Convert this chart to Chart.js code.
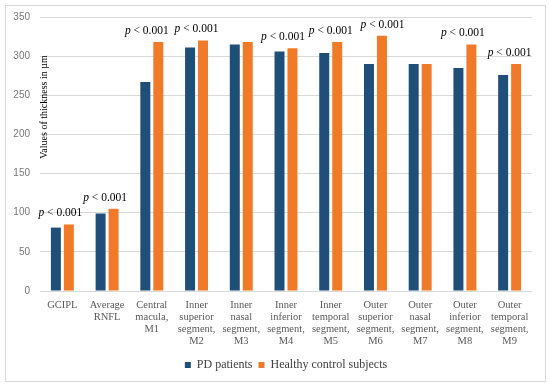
<!DOCTYPE html>
<html lang="en">
<head>
    <meta charset="UTF-8">
    <title>Retinal thickness: PD vs healthy controls</title>
    <script src="https://cdn.jsdelivr.net/npm/chart.js"></script>
    <style>
        body {
            margin: 0;
            background: #fff;
        }
        canvas {
            display: block;
        }
    </style>
</head>
<body>
    <canvas id="thicknessChart" width="550" height="384"></canvas>

    <script>
        // Data
        const categories = [
            ['GCIPL'],
            ['Average', 'RNFL'],
            ['Central', 'macula,', 'M1'],
            ['Inner', 'superior', 'segment,', 'M2'],
            ['Inner', 'nasal', 'segment,', 'M3'],
            ['Inner', 'inferior', 'segment,', 'M4'],
            ['Inner', 'temporal', 'segment,', 'M5'],
            ['Outer', 'superior', 'segment,', 'M6'],
            ['Outer', 'nasal', 'segment,', 'M7'],
            ['Outer', 'inferior', 'segment,', 'M8'],
            ['Outer', 'temporal', 'segment,', 'M9']
        ];
        const pdPatients      = [81, 99, 267, 311, 315, 306, 304, 290, 290, 285, 276];
        const healthyControls = [85, 105, 318, 320, 318, 310, 318, 326, 290, 315, 290];
        const pValueLabels = ['< 0.001', '< 0.001', '< 0.001', '< 0.001', '', '< 0.001',
                              '< 0.001', '< 0.001', '', '< 0.001', '< 0.001'];

        const serif = "'Liberation Serif', 'Times New Roman', serif";

        // small horizontal nudges of the p labels, as placed in the original
        const labelNudge = { 0: -2, 1: -2, 2: -5, 5: -3, 7: 7, 9: -2 };

        // frame, y title and p-value labels
        const extras = {
            id: 'extras',
            beforeDraw(chart) {
                const ctx = chart.ctx;
                ctx.save();
                ctx.fillStyle = '#fff';
                ctx.fillRect(0, 0, chart.width, chart.height);
                ctx.strokeStyle = '#d9d9d9';
                ctx.lineWidth = 1;
                ctx.strokeRect(5.5, 5.5, 540, 376);
                ctx.restore();
            },
            afterDatasetsDraw(chart) {
                const ctx = chart.ctx;
                const x = chart.scales.x, y = chart.scales.y;
                ctx.save();
                ctx.textBaseline = 'alphabetic';
                ctx.fillStyle = '#000';
                pValueLabels.forEach((txt, i) => {
                    if (!txt) return;
                    const top = y.getPixelForValue(Math.max(pdPatients[i], healthyControls[i]));
                    const cx = x.getPixelForValue(i) + (labelNudge[i] || 0);
                    ctx.font = 'italic 11.5px ' + serif;
                    const wp = ctx.measureText('p ').width;
                    ctx.font = '11.5px ' + serif;
                    const wr = ctx.measureText(txt).width;
                    const left = cx - (wp + wr) / 2;
                    ctx.font = 'italic 11.5px ' + serif;
                    ctx.textAlign = 'left';
                    ctx.fillText('p', left, top - 8);
                    ctx.font = '11.5px ' + serif;
                    ctx.fillText(txt, left + wp, top - 8);
                });

                // y axis title sits inside the plot area
                ctx.translate(44, 107);
                ctx.rotate(-Math.PI / 2);
                ctx.textAlign = 'center';
                ctx.textBaseline = 'middle';
                ctx.font = '10px ' + serif;
                ctx.fillText('Values of thickness in \u00b5m', 0, 0);
                ctx.restore();
            }
        };

        const config = {
            type: 'bar',
            data: {
                labels: categories,
                datasets: [
                    {
                        label: 'PD patients',
                        data: pdPatients,
                        backgroundColor: '#1F4E79',
                        categoryPercentage: 0.58,
                        barPercentage: 0.77
                    },
                    {
                        label: 'Healthy control subjects',
                        data: healthyControls,
                        backgroundColor: '#F07A28',
                        categoryPercentage: 0.58,
                        barPercentage: 0.77
                    }
                ]
            },
            options: {
                responsive: false,
                animation: false,
                devicePixelRatio: 1,
                layout: {
                    padding: { left: 0, right: 18, top: 17, bottom: 3 }
                },
                scales: {
                    y: {
                        min: 0,
                        max: 350,
                        afterFit(scale) { scale.width = 40; },
                        ticks: {
                            stepSize: 50,
                            padding: 10,
                            color: '#777',
                            font: { family: "'Liberation Sans', Arial, sans-serif", size: 10 }
                        },
                        grid: {
                            color: '#d9d9d9',
                            drawTicks: false
                        },
                        border: { display: false }
                    },
                    x: {
                        afterFit(scale) { scale.height = 62; },
                        grid: { display: false },
                        border: { display: false },
                        ticks: {
                            autoSkip: false,
                            maxRotation: 0,
                            minRotation: 0,
                            padding: 0,
                            color: '#595959',
                            font: { family: serif, size: 10.5, lineHeight: 1.15 }
                        }
                    }
                },
                plugins: {
                    legend: {
                        position: 'bottom',
                        fullSize: false,
                        labels: {
                            boxWidth: 6,
                            boxHeight: 6,
                            padding: 6,
                            color: '#404040',
                            font: { family: serif, size: 12 }
                        }
                    },
                    tooltip: { enabled: false }
                }
            },
            plugins: [extras]
        };

        new Chart(document.getElementById('thicknessChart'), config);
    </script>
</body>
</html>
